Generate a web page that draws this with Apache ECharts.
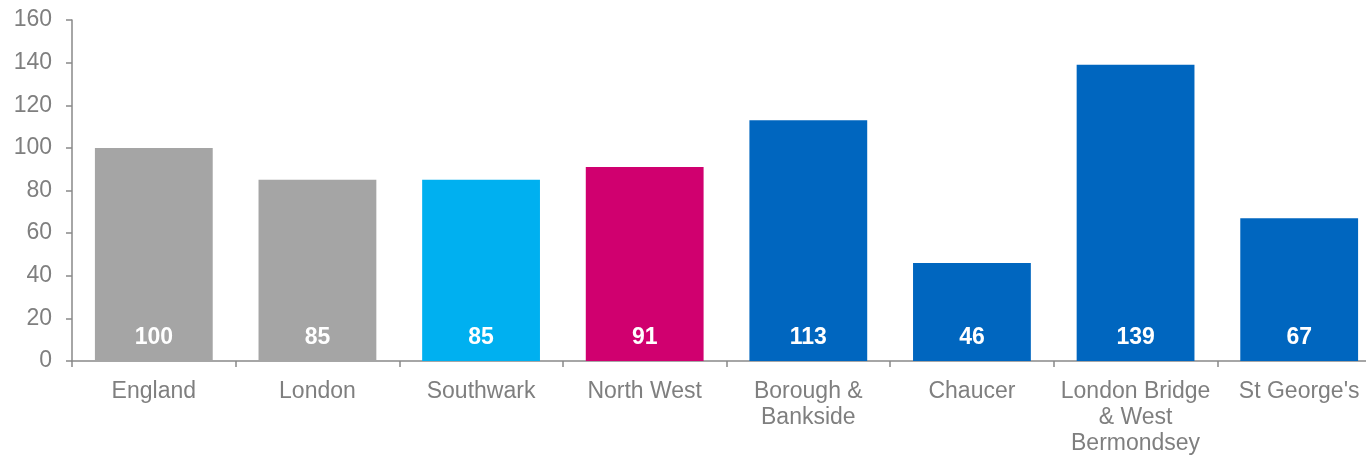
<!DOCTYPE html>
<html>
<head>
<meta charset="utf-8">
<script src="https://cdn.jsdelivr.net/npm/echarts@6/dist/echarts.min.js"></script>
<style>html,body{margin:0;padding:0;background:#fff;overflow:hidden;width:1366px;height:457px;}#c{width:1381px;height:457px;}</style>
</head>
<body>
<div id="c"></div>
<script>
const categories = ["England", "London", "Southwark", "North West", "Borough &\nBankside", "Chaucer", "London Bridge\n& West\nBermondsey", "St George's"];
const values = [100, 85, 85, 91, 113, 46, 139, 67];
const barColors = ["#A5A5A5", "#A5A5A5", "#00B0F0", "#D0006F", "#0066BF", "#0066BF", "#0066BF", "#0066BF"];
const yTicks = { min: 0, max: 160, interval: 20 };

const chart = echarts.init(document.getElementById('c'));
chart.setOption({
  animation: false,
  grid: { left: 72, right: 0, top: 20, bottom: 94, containLabel: false },
  xAxis: {
    type: 'category',
    data: categories,
    axisLine: { lineStyle: { color: '#898989', width: 1.5 } },
    axisTick: { show: true, length: 6, lineStyle: { color: '#898989', width: 1.5 } },
    axisLabel: { color: '#7F7F7F', fontSize: 23, fontFamily: 'Liberation Sans', margin: 18, lineHeight: 26, interval: 0 }
  },
  yAxis: {
    type: 'value',
    min: yTicks.min, max: yTicks.max, interval: yTicks.interval,
    splitLine: { show: false },
    axisLine: { show: true, lineStyle: { color: '#898989', width: 1.5 } },
    axisTick: { show: true, length: 6, lineStyle: { color: '#898989', width: 1.5 } },
    axisLabel: { color: '#7F7F7F', fontSize: 23, fontFamily: 'Liberation Sans', margin: 20 }
  },
  series: [{
    type: 'bar',
    data: values.map((v, i) => ({ value: v, itemStyle: { color: barColors[i] } })),
    barCategoryGap: '28%',
    label: {
      show: true, position: 'insideBottom', distance: 12,
      color: '#fff', fontSize: 23, fontWeight: 'bold', fontFamily: 'Liberation Sans'
    }
  }]
});
</script>
</body>
</html>
